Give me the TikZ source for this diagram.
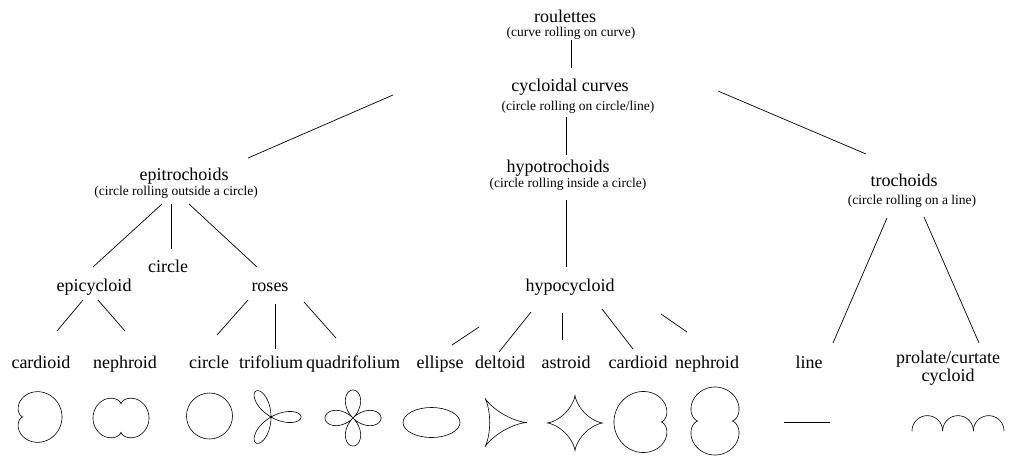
\documentclass[tikz,border=0pt]{standalone}
\usepackage{fontspec}
\setmainfont{Liberation Serif}
\usepackage{tikz}

\tikzset{
  lbl/.style={font=\fontsize{18}{16}\selectfont, anchor=base, inner sep=0pt, align=center},
  sublbl/.style={font=\fontsize{13.5}{14}\selectfont, anchor=base, inner sep=0pt},
  shape line/.style={line width=0.6pt, line join=round},
}

\begin{document}
\begin{tikzpicture}[x=1pt, y=-1pt, line width=0.7pt]
  % page 1013 x 456, one unit = one pixel, y grows downwards
  \useasboundingbox (0,0) rectangle (1013,456);

  % top of the tree
  \node[lbl]    (roulettes)         at (565,22)  {roulettes};
  \node[sublbl] (roulettes-sub)     at (571,36)  {(curve rolling on curve)};
  \node[lbl]    (cycloidal)         at (570,91)  {cycloidal curves};
  \node[sublbl] (cycloidal-sub)     at (578,110) {(circle rolling on circle/line)};
  \node[lbl]    (hypotrochoids)     at (558,172) {hypotrochoids};
  \node[sublbl] (hypotrochoids-sub) at (568,187) {(circle rolling inside a circle)};
  \node[lbl]    (epitrochoids)      at (184,180) {epitrochoids};
  \node[sublbl] (epitrochoids-sub)  at (176,195) {(circle rolling outside a circle)};
  \node[lbl]    (trochoids)         at (904,186) {trochoids};
  \node[sublbl] (trochoids-sub)     at (912,204) {(circle rolling on a line)};

  % middle row
  \node[lbl] (circle)      at (168,272) {circle};
  \node[lbl] (epicycloid)  at (94,291)  {epicycloid};
  \node[lbl] (roses)       at (270,291) {roses};
  \node[lbl] (hypocycloid) at (570,291) {hypocycloid};

  % leaves
  \node[lbl] (cardioid-epi)  at (41,368)  {cardioid};
  \node[lbl] (nephroid-epi)  at (125,368) {nephroid};
  \node[lbl] (circle-rose)   at (209,368) {circle};
  \node[lbl] (trifolium)     at (271,368) {trifolium};
  \node[lbl] (quadrifolium)  at (353,368) {quadrifolium};
  \node[lbl] (ellipse)       at (440,368) {ellipse};
  \node[lbl] (deltoid)       at (500,368) {deltoid};
  \node[lbl] (astroid)       at (566,368) {astroid};
  \node[lbl] (cardioid-hypo) at (638,368) {cardioid};
  \node[lbl] (nephroid-hypo) at (707,368) {nephroid};
  \node[lbl] (line)          at (809,368) {line};
  \node[lbl] (prolate)       at (948,381) {prolate/curtate\\cycloid};

  % connectors: parent/dx/dy/child/dx/dy, offsets from the base anchors
  \foreach \a/\ax/\ay/\b/\bx/\by in {%
    roulettes-sub/0/4/cycloidal/1/-23,
    cycloidal-sub/-12/7/hypotrochoids/8/-17,
    cycloidal/-177/4/epitrochoids/64/-22,
    cycloidal/148/0/trochoids/-38/-32,
    hypotrochoids-sub/-2/13/hypocycloid/-4/-24,
    epitrochoids-sub/-14/9/epicycloid/-1/-24,
    epitrochoids-sub/-5/9/circle/3/-23,
    epitrochoids-sub/13/9/roses/-13/-24,
    epicycloid/-11/9/cardioid-epi/16/-37,
    epicycloid/4/9/nephroid-epi/0/-37,
    roses/-22/9/circle-rose/8/-33,
    roses/5/13/trifolium/4/-19,
    roses/34/11/quadrifolium/-17/-30,
    hypocycloid/-91/36/ellipse/12/-23,
    hypocycloid/-39/21/deltoid/-1/-16,
    hypocycloid/-8/22/astroid/-4/-28,
    hypocycloid/32/18/cardioid-hypo/-5/-19,
    hypocycloid/91/23/nephroid-hypo/-20/-36,
    trochoids-sub/-25/14/line/24/-25,
    trochoids-sub/12/13/prolate/31/-38} {
    \draw ([shift={(\ax,\ay)}]\a.base) -- ([shift={(\bx,\by)}]\b.base);
  }

  % the curves themselves
  \draw[shape line] plot[domain=0:360, samples=180, variable=\t]
    ({23+19.5*(1+cos(\t))*cos(\t)}, {417+19.5*(1+cos(\t))*sin(\t)});
  \draw[shape line] plot[domain=0:360, samples=180, variable=\t]
    ({121+7*(3*sin(\t)-sin(3*\t))}, {418+7*(3*cos(\t)-cos(3*\t))});
  \draw[shape line] (209.5,416) circle[radius=23];
  \draw[shape line] plot[domain=0:180, samples=180, variable=\t]
    ({271+30*cos(3*\t)*cos(\t)}, {417+30*cos(3*\t)*sin(\t)});
  \draw[shape line] plot[domain=0:360, samples=240, variable=\t]
    ({353+28*cos(2*\t)*cos(\t)}, {418+28*cos(2*\t)*sin(\t)});
  \draw[shape line] (431.5,422.5) circle[x radius=28.5, y radius=15];
  \draw[shape line] plot[domain=0:360, samples=180, variable=\t]
    ({499+9.3*(2*cos(\t)+cos(2*\t))}, {422.5+9.3*(2*sin(\t)-sin(2*\t))});
  \draw[shape line] plot[domain=0:360, samples=180, variable=\t]
    ({575+28*cos(\t)*cos(\t)*cos(\t)}, {423+28*sin(\t)*sin(\t)*sin(\t)});
  \draw[shape line] plot[domain=0:360, samples=180, variable=\t]
    ({661-23.5*(1+cos(\t))*cos(\t)}, {422+23.5*(1+cos(\t))*sin(\t)});
  \draw[shape line] plot[domain=0:360, samples=180, variable=\t]
    ({715+8.5*(3*cos(\t)-cos(3*\t))}, {421+8.5*(3*sin(\t)-sin(3*\t))});
  \draw[shape line] (784,422) -- (830,422);
  \foreach \s in {912, 942.67, 973.33}
    \draw[shape line] plot[domain=0:180, samples=40, variable=\t]
      ({\s+15.33*(1-cos(\t))}, {431-15.33*sin(\t)});
\end{tikzpicture}
\end{document}
